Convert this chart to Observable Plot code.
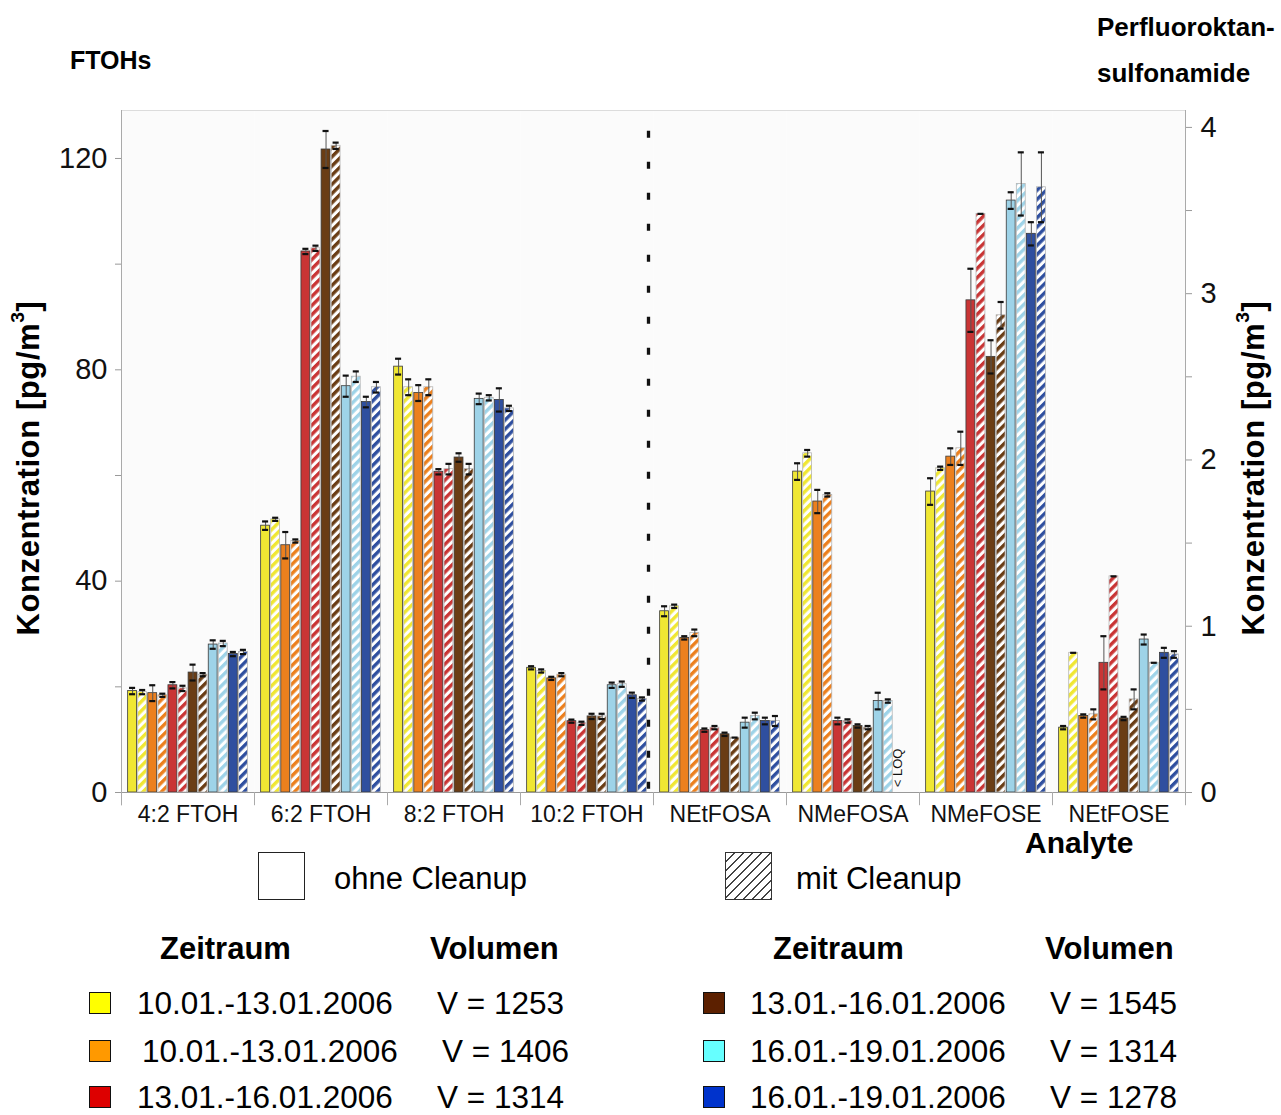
<!DOCTYPE html>
<html><head><meta charset="utf-8">
<script src="https://cdn.jsdelivr.net/npm/d3@7"></script>
<script src="https://cdn.jsdelivr.net/npm/@observablehq/plot@0.6"></script>
<style>
body{margin:0;background:#fff;font-family:"Liberation Sans",Arial,sans-serif;color:#000;}
#wrap{position:relative;width:1281px;height:1115px;overflow:hidden;}
#wrap svg.chart{position:absolute;left:0;top:0;}
.t{position:absolute;white-space:nowrap;line-height:1;}
.b{font-weight:bold;}
.rot{transform:translate(-50%,-50%) rotate(-90deg);letter-spacing:0.6px;}
sup{font-size:0.62em;line-height:0;vertical-align:0.75em;}
.sw{position:absolute;width:20px;height:20px;border:1.5px solid #111;}
</style></head><body><div id="wrap"></div>
<script>
// ---- data ----
const analytes = ["4:2 FTOH","6:2 FTOH","8:2 FTOH","10:2 FTOH","NEtFOSA","NMeFOSA","NMeFOSE","NEtFOSE"];
const axisSide = ["left","left","left","left","right","right","right","right"];
const periods = ["10.01.-13.01.2006","10.01.-13.01.2006","13.01.-16.01.2006","13.01.-16.01.2006","16.01.-19.01.2006","16.01.-19.01.2006"];
const volumes = ["V = 1253","V = 1406","V = 1314","V = 1545","V = 1314","V = 1278"];
const barColors = ["#f0e733","#ec801e","#c93535","#6a3d15","#9ed3e8","#2f4f9f"];
const legendColors = ["#ffff00","#ff9900","#dd0000","#5c2000","#66ffff","#0033cc"];
const cleanupLabels = ["ohne Cleanup","mit Cleanup"];
const leftTicks = [0,20,40,60,80,100,120];
const rightTicks = [0,0.5,1,1.5,2,2.5,3,3.5,4];

// values per analyte: order = series0 ohne, series0 mit, series1 ohne, ...
const v42 = [19.2,19.0,18.8,18.4,20.3,19.7,22.7,22.3,28.0,28.2,26.2,26.6];
const e42 = [0.6,0.4,1.5,0.3,0.6,0.5,1.5,0.3,0.8,0.5,0.4,0.4];
const v62 = [50.5,51.7,46.8,47.6,102.4,103.0,121.7,122.4,76.9,78.7,73.9,76.7];
const e62 = [0.8,0.3,2.5,0.3,0.5,0.5,3.5,0.6,2.0,1.0,1.0,1.0];
const v82 = [80.6,76.7,75.6,76.7,60.7,61.2,63.4,61.2,74.5,74.7,74.3,72.7];
const e82 = [1.5,1.5,1.5,1.5,0.5,1.0,0.8,1.0,1.0,0.5,2.2,0.5];
const v102 = [23.6,23.0,21.6,22.3,13.5,13.1,14.4,14.4,20.3,20.5,18.4,17.7];
const e102 = [0.3,0.3,0.3,0.3,0.3,0.3,0.5,0.5,0.5,0.5,0.5,0.3];
const vNEtFOSA = [1.09,1.12,0.93,0.96,0.375,0.39,0.35,0.33,0.42,0.46,0.43,0.43];
const eNEtFOSA = [0.03,0.01,0.01,0.02,0.01,0.01,0.01,0.0,0.03,0.02,0.02,0.03];
const vNMeFOSA = [1.93,2.04,1.75,1.79,0.43,0.43,0.40,0.39,0.55,0.55,null,null];
const eNMeFOSA = [0.05,0.02,0.07,0.01,0.02,0.01,0.01,0.01,0.05,0.01,null,null];
const vNMeFOSE = [1.81,1.95,2.02,2.07,2.96,3.48,2.62,2.87,3.56,3.66,3.36,3.64];
const eNMeFOSE = [0.08,0.01,0.05,0.10,0.19,0.0,0.10,0.08,0.05,0.19,0.07,0.21];
const vNEtFOSE = [0.39,0.84,0.46,0.47,0.78,1.30,0.445,0.56,0.92,0.78,0.84,0.83];
const eNEtFOSE = [0.01,0.0,0.01,0.03,0.16,0.0,0.01,0.06,0.03,0.0,0.03,0.02];

const values = [v42,v62,v82,v102,vNEtFOSA,vNMeFOSA,vNMeFOSE,vNEtFOSE];
const errors = [e42,e62,e82,e102,eNEtFOSA,eNMeFOSA,eNMeFOSE,eNEtFOSE];

// ---- build table ----
const K = 31.47;           // left units per right unit
const YMAX = 129.08;
const rows = [];
analytes.forEach((a, ai) => {
  const s = axisSide[ai] === "right" ? K : 1;
  values[ai].forEach((v, j) => {
    if (v == null) return;
    rows.push({analyte: a, j, clean: j % 2, y: v * s, e: (errors[ai][j] || 0) * s});
  });
});
const fills = d3.range(12).map(j => j % 2 === 0 ? barColors[j / 2] : `url(#hatch${(j - 1) / 2})`);
const firstA = [{analyte: analytes[0]}];
const lastA = [{analyte: analytes[analytes.length - 1]}];

const chart = Plot.plot({
  width: 1281, height: 830,
  marginLeft: 117, marginRight: 93, marginTop: 110, marginBottom: 38,
  style: {fontFamily: "Liberation Sans, Arial, sans-serif", background: "transparent"},
  fx: {domain: analytes, padding: 0},
  x: {domain: [-0.6, 12.6], axis: null},
  y: {domain: [0, YMAX]},
  color: {type: "ordinal", domain: d3.range(12), range: fills},
  marks: [
    Plot.frame({fill: "#fbfbfb", stroke: null}),
    Plot.ruleY([YMAX], {stroke: "#dcdcdc"}),
    Plot.rect(rows.filter(d => d.clean === 0), {fx: "analyte", x1: d => d.j, x2: d => d.j + 1, y1: 0, y2: "y", fill: "j", stroke: "#3a3a3a", strokeWidth: 0.8, insetLeft: 0.6, insetRight: 0.6}),
    Plot.rect(rows.filter(d => d.clean === 1), {fx: "analyte", x1: d => d.j, x2: d => d.j + 1, y1: 0, y2: "y", fill: "j", stroke: "#b5b5b5", strokeWidth: 0.8, insetLeft: 0.6, insetRight: 0.6}),
    Plot.ruleX(rows.filter(d => d.e > 0), {fx: "analyte", x: d => d.j + 0.5, y1: d => d.y - d.e, y2: d => d.y + d.e, stroke: "#555", strokeWidth: 1}),
    Plot.ruleY(rows, {fx: "analyte", y: d => d.y + d.e, x1: d => d.j + 0.2, x2: d => d.j + 0.8, stroke: "#111", strokeWidth: 2.2}),
    Plot.ruleY(rows.filter(d => d.e > 0), {fx: "analyte", y: d => d.y - d.e, x1: d => d.j + 0.2, x2: d => d.j + 0.8, stroke: "#111", strokeWidth: 2.2}),
    Plot.ruleY([0], {stroke: "#999"}),
    Plot.ruleX(analytes.map(a => ({analyte: a})), {fx: "analyte", x: -0.6, y1: 0, y2: -2.5, stroke: "#aaa"}),
    Plot.ruleX(lastA, {fx: "analyte", x: 12.6, y1: -2.5, y2: YMAX, stroke: "#aaa"}),
    Plot.ruleX(firstA, {fx: "analyte", x: -0.6, y1: -2.5, y2: YMAX, stroke: "#aaa"}),
    Plot.ruleX([{analyte: "NEtFOSA"}], {fx: "analyte", x: -0.6, dx: -5, y1: 0.6, y2: 127, stroke: "#111", strokeWidth: 3.3, strokeDasharray: "7,24"}),
    Plot.text([{analyte: "NMeFOSA", label: "< LOQ"}], {fx: "analyte", x: 10.4, y: 1, text: "label", rotate: -90, textAnchor: "start", fontSize: 13, fill: "#111"}),
    Plot.axisY(leftTicks, {anchor: "left", tickSize: 6, tickPadding: 8, fontSize: 29, stroke: "#999", fill: "#111", label: null,
      tickFormat: d => d % 40 === 0 ? String(d) : ""}),
    Plot.axisY(rightTicks.map(r => r * K), {anchor: "right", tickSize: 6, tickPadding: 9, fontSize: 29, stroke: "#999", fill: "#111", label: null,
      tickFormat: d => { const r = Math.round(d / K * 2) / 2; return Number.isInteger(r) ? String(r) : ""; }}),
    Plot.axisFx({anchor: "bottom", tickSize: 0, tickPadding: 13, fontSize: 23, fill: "#111", label: null})
  ]
});
chart.classList.add("chart");

// hatch patterns
const ns = "http://www.w3.org/2000/svg";
const defs = document.createElementNS(ns, "defs");
barColors.forEach((c, i) => {
  const p = document.createElementNS(ns, "pattern");
  p.setAttribute("id", `hatch${i}`);
  p.setAttribute("patternUnits", "userSpaceOnUse");
  p.setAttribute("width", "6.5"); p.setAttribute("height", "6.5");
  p.setAttribute("patternTransform", "rotate(45)");
  const bg = document.createElementNS(ns, "rect");
  bg.setAttribute("width", "6.5"); bg.setAttribute("height", "6.5"); bg.setAttribute("fill", "#ffffff");
  const st = document.createElementNS(ns, "rect");
  st.setAttribute("width", "3.4"); st.setAttribute("height", "6.5"); st.setAttribute("fill", c);
  p.appendChild(bg); p.appendChild(st); defs.appendChild(p);
});
chart.insertBefore(defs, chart.firstChild);

const wrap = document.getElementById("wrap");
wrap.appendChild(chart);

// ---- annotations & legend ----
function txt(html, left, cy, size, cls = "") {
  const d = document.createElement("div");
  d.className = "t " + cls;
  d.style.left = left + "px";
  d.style.top = (cy - size * 0.49) + "px";
  d.style.fontSize = size + "px";
  d.innerHTML = html;
  wrap.appendChild(d);
  return d;
}
function rot(html, cx, cy, size) {
  const d = document.createElement("div");
  d.className = "t b rot";
  d.style.left = cx + "px"; d.style.top = cy + "px";
  d.style.fontSize = size + "px";
  d.innerHTML = html;
  wrap.appendChild(d);
}
txt("FTOHs", 70, 60, 25, "b");
txt("Perfluoroktan-", 1097, 27, 26, "b");
txt("sulfonamide", 1097, 73, 26, "b");
rot("Konzentration [pg/m<sup>3</sup>]", 28, 468, 31);
rot("Konzentration [pg/m<sup>3</sup>]", 1253, 468, 31);
txt("Analyte", 1025, 843, 30, "b");

// cleanup legend
const box1 = document.createElement("div");
box1.style.cssText = "position:absolute;left:258px;top:852px;width:45px;height:46px;border:1.5px solid #222;background:#fff;";
wrap.appendChild(box1);
txt(cleanupLabels[0], 334, 878, 31);
const box2 = document.createElement("div");
box2.style.cssText = "position:absolute;left:725px;top:852px;width:45px;height:46px;border:1.5px solid #333;background:repeating-linear-gradient(135deg,#fff 0 5px,#444 5px 6.5px);";
wrap.appendChild(box2);
txt(cleanupLabels[1], 796, 878, 31);

// period legend
txt("Zeitraum", 160, 948, 31, "b");
txt("Volumen", 430, 948, 31, "b");
txt("Zeitraum", 773, 948, 31, "b");
txt("Volumen", 1045, 948, 31, "b");
const rowY = [1003, 1051, 1097];
periods.forEach((p, i) => {
  const col = i < 3 ? 0 : 1;
  const r = i % 3;
  const cy = rowY[r];
  const sx = col === 0 ? 89 : 703;
  const sw = document.createElement("div");
  sw.className = "sw";
  sw.style.left = sx + "px"; sw.style.top = (cy - 11) + "px";
  sw.style.background = legendColors[i];
  wrap.appendChild(sw);
  const shift = (col === 0 && r === 1) ? 5 : 0;
  txt(p, (col === 0 ? 137 : 750) + shift, cy, 31.5);
  txt(volumes[i], (col === 0 ? 437 : 1050) + shift, cy, 31.5);
});
</script></body></html>
